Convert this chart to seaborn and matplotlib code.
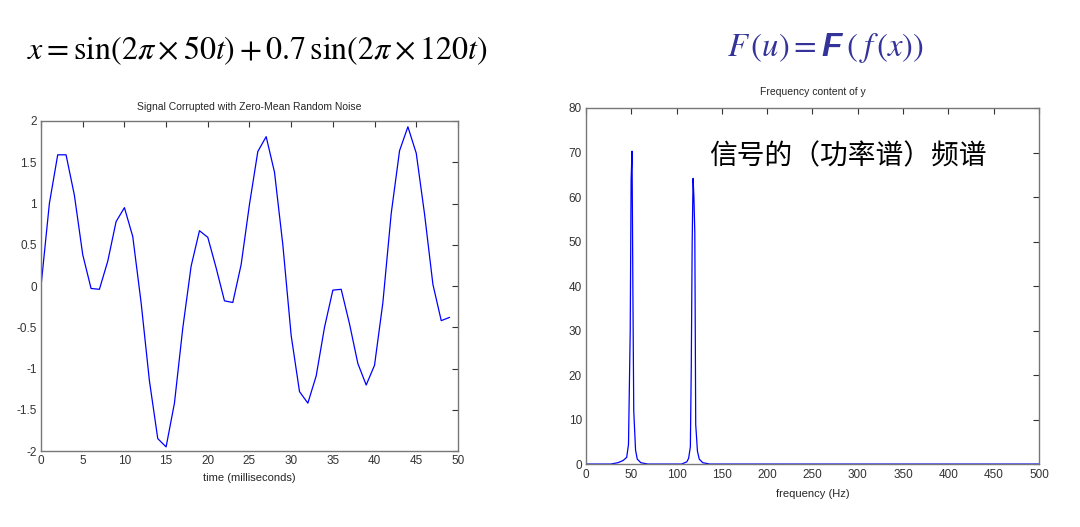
import matplotlib
matplotlib.use('Agg')
import matplotlib.pyplot as plt
import seaborn as sns
import pandas as pd

# time samples (ms) and the noisy signal
time_ms = list(range(50))
signal = [0.0, 1.0, 1.59, 1.59, 1.1, 0.38, -0.03, -0.04, 0.30, 0.78,
          0.95, 0.60, -0.2, -1.15, -1.85, -1.95, -1.42, -0.51, 0.24, 0.67,
          0.59, 0.22, -0.18, -0.20, 0.26, 0.99, 1.63, 1.81, 1.38, 0.5,
          -0.6, -1.28, -1.42, -1.09, -0.50, -0.05, -0.04, -0.46, -0.94, -1.20,
          -0.96, -0.2, 0.88, 1.64, 1.93, 1.61, 0.87, 0.02, -0.42, -0.38]

# power spectrum
freq_hz = [0.0, 27.3, 35.2, 41.0, 44.9, 46.9, 48.8, 49.8, 50.8, 51.8,
           52.7, 54.7, 56.6, 60.5, 68.4, 105.5, 111.3, 113.3, 115.2, 116.2,
           117.2, 118.2, 119.1, 120.1, 121.1, 123.0, 125.0, 128.9, 136.7, 500.0]
power = [0.1, 0.1, 0.4, 0.9, 1.6, 4.5, 30.0, 64.0, 70.3, 37.5,
         12.0, 3.2, 1.2, 0.4, 0.1, 0.1, 0.6, 1.4, 4.0, 22.0,
         50.0, 64.2, 60.0, 52.0, 9.0, 3.0, 1.2, 0.4, 0.1, 0.1]

x_ticks = list(range(0, 51, 5))
y_ticks = [-2, -1.5, -1, -0.5, 0, 0.5, 1, 1.5, 2]
y_tick_labels = ['-2', '-1.5', '-1', '-0.5', '0', '0.5', '1', '1.5', '2']
f_ticks = list(range(0, 501, 50))
p_ticks = list(range(0, 81, 10))

sns.set_style('white')
plt.rcParams['font.family'] = ['Liberation Sans', 'DejaVu Sans']
plt.rcParams['axes.unicode_minus'] = False
plt.rcParams['mathtext.fontset'] = 'stix'

fig = plt.figure(figsize=(10.8, 5.27), dpi=100)
ax1 = fig.add_axes([0.038, 0.1442, 0.386, 0.6262])
ax2 = fig.add_axes([0.5426, 0.1186, 0.4194, 0.6765])

df_sig = pd.DataFrame({'t': time_ms, 'x': signal})
df_pow = pd.DataFrame({'f': freq_hz, 'p': power})

sns.lineplot(data=df_sig, x='t', y='x', ax=ax1, color='#0000ff', lw=0.9)
sns.lineplot(data=df_pow, x='f', y='p', ax=ax2, color='#0000ff', lw=0.9)

ax1.set_xlim(0, 50)
ax1.set_ylim(-2, 2)
ax1.set_xticks(x_ticks)
ax1.set_yticks(y_ticks)
ax1.set_yticklabels(y_tick_labels)
ax1.set_title('Signal Corrupted with Zero-Mean Random Noise', fontsize=7.5, pad=8)
ax1.set_xlabel('time (milliseconds)', fontsize=8, labelpad=4)
ax1.set_ylabel('')

ax2.set_xlim(0, 500)
ax2.set_ylim(0, 80)
ax2.set_xticks(f_ticks)
ax2.set_yticks(p_ticks)
ax2.set_title('Frequency content of y', fontsize=7.5, pad=9)
ax2.set_xlabel('frequency (Hz)', fontsize=8, labelpad=6)
ax2.set_ylabel('')

for ax in (ax1, ax2):
    ax.tick_params(direction='in', length=4, width=0.8, top=True, right=True,
                   labelsize=8.5, colors='#333333', pad=3)
    for s in ax.spines.values():
        s.set_color('#777777')
        s.set_linewidth(1.0)

fig.text(27 / 1080, 1 - 51 / 527,
         r'$x = \sin(2\pi \times 50t) + 0.7\,\sin(2\pi \times 120t)$',
         fontsize=23, va='center', ha='left', color='black')

blue = '#333399'
fig.text(727 / 1080, 1 - 48 / 527, r'$F\,(u) = $', fontsize=23.5,
         va='center', ha='left', color=blue)
fig.text(821 / 1080, 1 - 48 / 527, 'F', fontsize=24, fontweight='bold',
         fontstyle='italic', family=['Liberation Sans', 'DejaVu Sans'],
         va='center', ha='left', color=blue)
fig.text(846 / 1080, 1 - 48 / 527, r'$(\;f\,(x))$', fontsize=23.5,
         va='center', ha='left', color=blue)

fig.text(709 / 1080, 1 - 156 / 527, '信号的（功率谱）频谱', fontsize=20,
         family=['Noto Sans CJK SC', 'DejaVu Sans'], va='center', ha='left',
         color='black')

fig.savefig('out.png', dpi=100)
plt.close(fig)
